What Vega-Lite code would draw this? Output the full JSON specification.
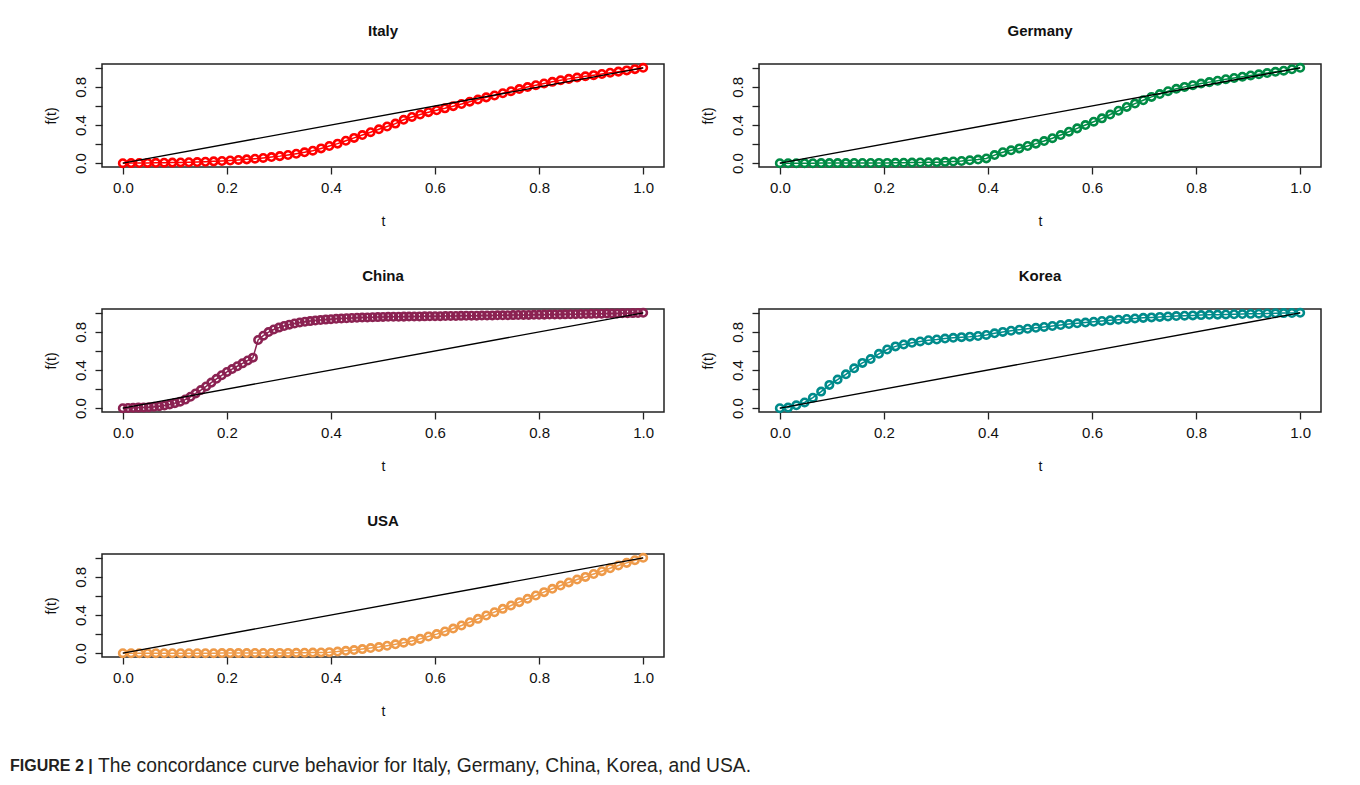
{
  "$schema": "https://vega.github.io/schema/vega-lite/v6.json",
  "padding": {"left": 10, "top": 23, "right": 5, "bottom": 5},
  "background": "white",
  "columns": 2,
  "bounds": "flush",
  "spacing": {"row": 142, "column": 95},
  "datasets": {
    "diag": [{"t": 0, "f": 0}, {"t": 1, "f": 1}],
    "curves": [
      {"country":"Italy","t":0,"f":0},{"country":"Italy","t":0.0159,"f":0.001},{"country":"Italy","t":0.0317,"f":0.002},{"country":"Italy","t":0.0476,"f":0.003},{"country":"Italy","t":0.0635,"f":0.004},{"country":"Italy","t":0.0794,"f":0.005},{"country":"Italy","t":0.0952,"f":0.006},{"country":"Italy","t":0.1111,"f":0.008},{"country":"Italy","t":0.127,"f":0.010},{"country":"Italy","t":0.1429,"f":0.012},{"country":"Italy","t":0.1587,"f":0.015},{"country":"Italy","t":0.1746,"f":0.019},{"country":"Italy","t":0.1905,"f":0.023},{"country":"Italy","t":0.2063,"f":0.028},{"country":"Italy","t":0.2222,"f":0.034},{"country":"Italy","t":0.2381,"f":0.040},{"country":"Italy","t":0.254,"f":0.047},{"country":"Italy","t":0.2698,"f":0.055},{"country":"Italy","t":0.2857,"f":0.064},{"country":"Italy","t":0.3016,"f":0.074},{"country":"Italy","t":0.3175,"f":0.086},{"country":"Italy","t":0.3333,"f":0.099},{"country":"Italy","t":0.3492,"f":0.114},{"country":"Italy","t":0.3651,"f":0.131},{"country":"Italy","t":0.381,"f":0.155},{"country":"Italy","t":0.3968,"f":0.18},{"country":"Italy","t":0.4127,"f":0.205},{"country":"Italy","t":0.4286,"f":0.235},{"country":"Italy","t":0.4444,"f":0.265},{"country":"Italy","t":0.4603,"f":0.295},{"country":"Italy","t":0.4762,"f":0.325},{"country":"Italy","t":0.4921,"f":0.355},{"country":"Italy","t":0.5079,"f":0.385},{"country":"Italy","t":0.5238,"f":0.415},{"country":"Italy","t":0.5397,"f":0.455},{"country":"Italy","t":0.5556,"f":0.485},{"country":"Italy","t":0.5714,"f":0.51},{"country":"Italy","t":0.5873,"f":0.535},{"country":"Italy","t":0.6032,"f":0.555},{"country":"Italy","t":0.619,"f":0.575},{"country":"Italy","t":0.6349,"f":0.598},{"country":"Italy","t":0.6508,"f":0.62},{"country":"Italy","t":0.6667,"f":0.645},{"country":"Italy","t":0.6825,"f":0.668},{"country":"Italy","t":0.6984,"f":0.69},{"country":"Italy","t":0.7143,"f":0.71},{"country":"Italy","t":0.7302,"f":0.733},{"country":"Italy","t":0.746,"f":0.755},{"country":"Italy","t":0.7619,"f":0.777},{"country":"Italy","t":0.7778,"f":0.798},{"country":"Italy","t":0.7937,"f":0.818},{"country":"Italy","t":0.8095,"f":0.836},{"country":"Italy","t":0.8254,"f":0.853},{"country":"Italy","t":0.8413,"f":0.869},{"country":"Italy","t":0.8571,"f":0.884},{"country":"Italy","t":0.873,"f":0.898},{"country":"Italy","t":0.8889,"f":0.911},{"country":"Italy","t":0.9048,"f":0.923},{"country":"Italy","t":0.9206,"f":0.935},{"country":"Italy","t":0.9365,"f":0.948},{"country":"Italy","t":0.9524,"f":0.96},{"country":"Italy","t":0.9683,"f":0.973},{"country":"Italy","t":0.9841,"f":0.986},{"country":"Italy","t":1,"f":1},
      {"country":"Germany","t":0,"f":0},{"country":"Germany","t":0.0159,"f":0},{"country":"Germany","t":0.0317,"f":0},{"country":"Germany","t":0.0476,"f":0},{"country":"Germany","t":0.0635,"f":0},{"country":"Germany","t":0.0794,"f":0.001},{"country":"Germany","t":0.0952,"f":0.001},{"country":"Germany","t":0.1111,"f":0.001},{"country":"Germany","t":0.127,"f":0.001},{"country":"Germany","t":0.1429,"f":0.002},{"country":"Germany","t":0.1587,"f":0.002},{"country":"Germany","t":0.1746,"f":0.002},{"country":"Germany","t":0.1905,"f":0.003},{"country":"Germany","t":0.2063,"f":0.003},{"country":"Germany","t":0.2222,"f":0.004},{"country":"Germany","t":0.2381,"f":0.005},{"country":"Germany","t":0.254,"f":0.006},{"country":"Germany","t":0.2698,"f":0.007},{"country":"Germany","t":0.2857,"f":0.009},{"country":"Germany","t":0.3016,"f":0.011},{"country":"Germany","t":0.3175,"f":0.014},{"country":"Germany","t":0.3333,"f":0.018},{"country":"Germany","t":0.3492,"f":0.023},{"country":"Germany","t":0.3651,"f":0.030},{"country":"Germany","t":0.381,"f":0.038},{"country":"Germany","t":0.3968,"f":0.050},{"country":"Germany","t":0.4127,"f":0.085},{"country":"Germany","t":0.4286,"f":0.115},{"country":"Germany","t":0.4444,"f":0.135},{"country":"Germany","t":0.4603,"f":0.155},{"country":"Germany","t":0.4762,"f":0.18},{"country":"Germany","t":0.4921,"f":0.205},{"country":"Germany","t":0.5079,"f":0.232},{"country":"Germany","t":0.5238,"f":0.262},{"country":"Germany","t":0.5397,"f":0.295},{"country":"Germany","t":0.5556,"f":0.33},{"country":"Germany","t":0.5714,"f":0.365},{"country":"Germany","t":0.5873,"f":0.40},{"country":"Germany","t":0.6032,"f":0.435},{"country":"Germany","t":0.619,"f":0.47},{"country":"Germany","t":0.6349,"f":0.51},{"country":"Germany","t":0.6508,"f":0.55},{"country":"Germany","t":0.6667,"f":0.59},{"country":"Germany","t":0.6825,"f":0.625},{"country":"Germany","t":0.6984,"f":0.66},{"country":"Germany","t":0.7143,"f":0.695},{"country":"Germany","t":0.7302,"f":0.725},{"country":"Germany","t":0.746,"f":0.755},{"country":"Germany","t":0.7619,"f":0.78},{"country":"Germany","t":0.7778,"f":0.80},{"country":"Germany","t":0.7937,"f":0.818},{"country":"Germany","t":0.8095,"f":0.835},{"country":"Germany","t":0.8254,"f":0.85},{"country":"Germany","t":0.8413,"f":0.865},{"country":"Germany","t":0.8571,"f":0.88},{"country":"Germany","t":0.873,"f":0.893},{"country":"Germany","t":0.8889,"f":0.907},{"country":"Germany","t":0.9048,"f":0.92},{"country":"Germany","t":0.9206,"f":0.932},{"country":"Germany","t":0.9365,"f":0.945},{"country":"Germany","t":0.9524,"f":0.958},{"country":"Germany","t":0.9683,"f":0.97},{"country":"Germany","t":0.9841,"f":0.985},{"country":"Germany","t":1,"f":1},
      {"country":"China","t":0,"f":0},{"country":"China","t":0.01,"f":0.002},{"country":"China","t":0.02,"f":0.004},{"country":"China","t":0.03,"f":0.006},{"country":"China","t":0.04,"f":0.008},{"country":"China","t":0.05,"f":0.011},{"country":"China","t":0.06,"f":0.015},{"country":"China","t":0.07,"f":0.021},{"country":"China","t":0.08,"f":0.029},{"country":"China","t":0.09,"f":0.040},{"country":"China","t":0.10,"f":0.053},{"country":"China","t":0.11,"f":0.068},{"country":"China","t":0.12,"f":0.090},{"country":"China","t":0.13,"f":0.120},{"country":"China","t":0.14,"f":0.155},{"country":"China","t":0.15,"f":0.190},{"country":"China","t":0.16,"f":0.228},{"country":"China","t":0.17,"f":0.268},{"country":"China","t":0.18,"f":0.308},{"country":"China","t":0.19,"f":0.345},{"country":"China","t":0.20,"f":0.380},{"country":"China","t":0.21,"f":0.410},{"country":"China","t":0.22,"f":0.440},{"country":"China","t":0.23,"f":0.470},{"country":"China","t":0.24,"f":0.500},{"country":"China","t":0.25,"f":0.530},{"country":"China","t":0.26,"f":0.715},{"country":"China","t":0.27,"f":0.760},{"country":"China","t":0.28,"f":0.798},{"country":"China","t":0.29,"f":0.825},{"country":"China","t":0.30,"f":0.845},{"country":"China","t":0.31,"f":0.862},{"country":"China","t":0.32,"f":0.876},{"country":"China","t":0.33,"f":0.888},{"country":"China","t":0.34,"f":0.898},{"country":"China","t":0.35,"f":0.906},{"country":"China","t":0.36,"f":0.913},{"country":"China","t":0.37,"f":0.919},{"country":"China","t":0.38,"f":0.924},{"country":"China","t":0.39,"f":0.929},{"country":"China","t":0.40,"f":0.933},{"country":"China","t":0.41,"f":0.937},{"country":"China","t":0.42,"f":0.940},{"country":"China","t":0.43,"f":0.943},{"country":"China","t":0.44,"f":0.946},{"country":"China","t":0.45,"f":0.948},{"country":"China","t":0.46,"f":0.950},{"country":"China","t":0.47,"f":0.952},{"country":"China","t":0.48,"f":0.954},{"country":"China","t":0.49,"f":0.955},{"country":"China","t":0.50,"f":0.957},{"country":"China","t":0.51,"f":0.958},{"country":"China","t":0.52,"f":0.959},{"country":"China","t":0.53,"f":0.959},{"country":"China","t":0.54,"f":0.960},{"country":"China","t":0.55,"f":0.961},{"country":"China","t":0.56,"f":0.962},{"country":"China","t":0.57,"f":0.962},{"country":"China","t":0.58,"f":0.963},{"country":"China","t":0.59,"f":0.964},{"country":"China","t":0.60,"f":0.965},{"country":"China","t":0.61,"f":0.965},{"country":"China","t":0.62,"f":0.966},{"country":"China","t":0.63,"f":0.967},{"country":"China","t":0.64,"f":0.967},{"country":"China","t":0.65,"f":0.968},{"country":"China","t":0.66,"f":0.969},{"country":"China","t":0.67,"f":0.970},{"country":"China","t":0.68,"f":0.970},{"country":"China","t":0.69,"f":0.971},{"country":"China","t":0.70,"f":0.972},{"country":"China","t":0.71,"f":0.973},{"country":"China","t":0.72,"f":0.974},{"country":"China","t":0.73,"f":0.974},{"country":"China","t":0.74,"f":0.975},{"country":"China","t":0.75,"f":0.976},{"country":"China","t":0.76,"f":0.977},{"country":"China","t":0.77,"f":0.978},{"country":"China","t":0.78,"f":0.978},{"country":"China","t":0.79,"f":0.979},{"country":"China","t":0.80,"f":0.980},{"country":"China","t":0.81,"f":0.981},{"country":"China","t":0.82,"f":0.982},{"country":"China","t":0.83,"f":0.983},{"country":"China","t":0.84,"f":0.983},{"country":"China","t":0.85,"f":0.984},{"country":"China","t":0.86,"f":0.985},{"country":"China","t":0.87,"f":0.986},{"country":"China","t":0.88,"f":0.987},{"country":"China","t":0.89,"f":0.988},{"country":"China","t":0.90,"f":0.989},{"country":"China","t":0.91,"f":0.990},{"country":"China","t":0.92,"f":0.991},{"country":"China","t":0.93,"f":0.992},{"country":"China","t":0.94,"f":0.993},{"country":"China","t":0.95,"f":0.994},{"country":"China","t":0.96,"f":0.995},{"country":"China","t":0.97,"f":0.996},{"country":"China","t":0.98,"f":0.997},{"country":"China","t":0.99,"f":0.998},{"country":"China","t":1,"f":1},
      {"country":"Korea","t":0,"f":0},{"country":"Korea","t":0.0159,"f":0.006},{"country":"Korea","t":0.0317,"f":0.03},{"country":"Korea","t":0.0476,"f":0.06},{"country":"Korea","t":0.0635,"f":0.11},{"country":"Korea","t":0.0794,"f":0.174},{"country":"Korea","t":0.0952,"f":0.244},{"country":"Korea","t":0.1111,"f":0.30},{"country":"Korea","t":0.127,"f":0.355},{"country":"Korea","t":0.1429,"f":0.418},{"country":"Korea","t":0.1587,"f":0.475},{"country":"Korea","t":0.1746,"f":0.515},{"country":"Korea","t":0.1905,"f":0.57},{"country":"Korea","t":0.2063,"f":0.615},{"country":"Korea","t":0.2222,"f":0.648},{"country":"Korea","t":0.2381,"f":0.668},{"country":"Korea","t":0.254,"f":0.686},{"country":"Korea","t":0.2698,"f":0.70},{"country":"Korea","t":0.2857,"f":0.712},{"country":"Korea","t":0.3016,"f":0.72},{"country":"Korea","t":0.3175,"f":0.73},{"country":"Korea","t":0.3333,"f":0.738},{"country":"Korea","t":0.3492,"f":0.745},{"country":"Korea","t":0.3651,"f":0.75},{"country":"Korea","t":0.381,"f":0.757},{"country":"Korea","t":0.3968,"f":0.768},{"country":"Korea","t":0.4127,"f":0.785},{"country":"Korea","t":0.4286,"f":0.80},{"country":"Korea","t":0.4444,"f":0.812},{"country":"Korea","t":0.4603,"f":0.823},{"country":"Korea","t":0.4762,"f":0.833},{"country":"Korea","t":0.4921,"f":0.843},{"country":"Korea","t":0.5079,"f":0.852},{"country":"Korea","t":0.5238,"f":0.862},{"country":"Korea","t":0.5397,"f":0.872},{"country":"Korea","t":0.5556,"f":0.882},{"country":"Korea","t":0.5714,"f":0.89},{"country":"Korea","t":0.5873,"f":0.898},{"country":"Korea","t":0.6032,"f":0.906},{"country":"Korea","t":0.619,"f":0.914},{"country":"Korea","t":0.6349,"f":0.921},{"country":"Korea","t":0.6508,"f":0.928},{"country":"Korea","t":0.6667,"f":0.935},{"country":"Korea","t":0.6825,"f":0.941},{"country":"Korea","t":0.6984,"f":0.947},{"country":"Korea","t":0.7143,"f":0.952},{"country":"Korea","t":0.7302,"f":0.957},{"country":"Korea","t":0.746,"f":0.962},{"country":"Korea","t":0.7619,"f":0.966},{"country":"Korea","t":0.7778,"f":0.970},{"country":"Korea","t":0.7937,"f":0.973},{"country":"Korea","t":0.8095,"f":0.976},{"country":"Korea","t":0.8254,"f":0.979},{"country":"Korea","t":0.8413,"f":0.981},{"country":"Korea","t":0.8571,"f":0.983},{"country":"Korea","t":0.873,"f":0.985},{"country":"Korea","t":0.8889,"f":0.987},{"country":"Korea","t":0.9048,"f":0.989},{"country":"Korea","t":0.9206,"f":0.991},{"country":"Korea","t":0.9365,"f":0.993},{"country":"Korea","t":0.9524,"f":0.995},{"country":"Korea","t":0.9683,"f":0.997},{"country":"Korea","t":0.9841,"f":0.998},{"country":"Korea","t":1,"f":1},
      {"country":"USA","t":0,"f":0},{"country":"USA","t":0.0159,"f":0},{"country":"USA","t":0.0317,"f":0},{"country":"USA","t":0.0476,"f":0},{"country":"USA","t":0.0635,"f":0},{"country":"USA","t":0.0794,"f":0},{"country":"USA","t":0.0952,"f":0},{"country":"USA","t":0.1111,"f":0},{"country":"USA","t":0.127,"f":0},{"country":"USA","t":0.1429,"f":0},{"country":"USA","t":0.1587,"f":0},{"country":"USA","t":0.1746,"f":0},{"country":"USA","t":0.1905,"f":0.001},{"country":"USA","t":0.2063,"f":0.001},{"country":"USA","t":0.2222,"f":0.001},{"country":"USA","t":0.2381,"f":0.001},{"country":"USA","t":0.254,"f":0.002},{"country":"USA","t":0.2698,"f":0.002},{"country":"USA","t":0.2857,"f":0.002},{"country":"USA","t":0.3016,"f":0.003},{"country":"USA","t":0.3175,"f":0.003},{"country":"USA","t":0.3333,"f":0.004},{"country":"USA","t":0.3492,"f":0.005},{"country":"USA","t":0.3651,"f":0.006},{"country":"USA","t":0.381,"f":0.008},{"country":"USA","t":0.3968,"f":0.011},{"country":"USA","t":0.4127,"f":0.017},{"country":"USA","t":0.4286,"f":0.025},{"country":"USA","t":0.4444,"f":0.033},{"country":"USA","t":0.4603,"f":0.043},{"country":"USA","t":0.4762,"f":0.054},{"country":"USA","t":0.4921,"f":0.064},{"country":"USA","t":0.5079,"f":0.078},{"country":"USA","t":0.5238,"f":0.093},{"country":"USA","t":0.5397,"f":0.11},{"country":"USA","t":0.5556,"f":0.128},{"country":"USA","t":0.5714,"f":0.15},{"country":"USA","t":0.5873,"f":0.175},{"country":"USA","t":0.6032,"f":0.20},{"country":"USA","t":0.619,"f":0.228},{"country":"USA","t":0.6349,"f":0.258},{"country":"USA","t":0.6508,"f":0.29},{"country":"USA","t":0.6667,"f":0.325},{"country":"USA","t":0.6825,"f":0.36},{"country":"USA","t":0.6984,"f":0.395},{"country":"USA","t":0.7143,"f":0.43},{"country":"USA","t":0.7302,"f":0.465},{"country":"USA","t":0.746,"f":0.50},{"country":"USA","t":0.7619,"f":0.535},{"country":"USA","t":0.7778,"f":0.57},{"country":"USA","t":0.7937,"f":0.605},{"country":"USA","t":0.8095,"f":0.64},{"country":"USA","t":0.8254,"f":0.675},{"country":"USA","t":0.8413,"f":0.71},{"country":"USA","t":0.8571,"f":0.742},{"country":"USA","t":0.873,"f":0.772},{"country":"USA","t":0.8889,"f":0.80},{"country":"USA","t":0.9048,"f":0.83},{"country":"USA","t":0.9206,"f":0.86},{"country":"USA","t":0.9365,"f":0.89},{"country":"USA","t":0.9524,"f":0.92},{"country":"USA","t":0.9683,"f":0.947},{"country":"USA","t":0.9841,"f":0.975},{"country":"USA","t":1,"f":1}
    ]
  },
  "concat": [
    {
      "title": "Italy", "width": 562, "height": 103,
      "data": {"name": "curves"},
      "encoding": {
        "x": {"field": "t", "type": "quantitative", "scale": {"domain": [-0.04, 1.04], "nice": false, "zero": false}, "axis": {"values": [0, 0.2, 0.4, 0.6, 0.8, 1], "format": ".1f", "title": "t"}},
        "y": {"field": "f", "type": "quantitative", "scale": {"domain": [-0.04, 1.04], "nice": false, "zero": false}, "axis": {"values": [0, 0.2, 0.4, 0.6, 0.8, 1], "labelExpr": "(datum.value < 0.01 || abs(datum.value - 0.4) < 0.01 || abs(datum.value - 0.8) < 0.01) ? format(datum.value, '.1f') : ''", "title": "f(t)"}}
      },
      "layer": [
        {"transform": [{"filter": "datum.country === 'Italy'"}], "mark": {"type": "line", "strokeWidth": 1.5}, "encoding": {"color": {"field": "country", "type": "nominal", "scale": {"domain": ["Italy", "Germany", "China", "Korea", "USA"], "range": ["#FF0000", "#008B45", "#8B2252", "#008B8B", "#EE9A49"]}, "legend": null}}},
        {"transform": [{"filter": "datum.country === 'Italy'"}], "mark": {"type": "point", "filled": false, "size": 55, "strokeWidth": 2.6, "opacity": 1}, "encoding": {"color": {"field": "country", "type": "nominal", "scale": {"domain": ["Italy", "Germany", "China", "Korea", "USA"], "range": ["#FF0000", "#008B45", "#8B2252", "#008B8B", "#EE9A49"]}, "legend": null}}},
        {"data": {"name": "diag"}, "mark": {"type": "line", "color": "black", "strokeWidth": 1.3}, "encoding": {}}
      ]
    },
    {
      "title": "Germany", "width": 562, "height": 103,
      "data": {"name": "curves"},
      "encoding": {
        "x": {"field": "t", "type": "quantitative", "scale": {"domain": [-0.04, 1.04], "nice": false, "zero": false}, "axis": {"values": [0, 0.2, 0.4, 0.6, 0.8, 1], "format": ".1f", "title": "t"}},
        "y": {"field": "f", "type": "quantitative", "scale": {"domain": [-0.04, 1.04], "nice": false, "zero": false}, "axis": {"values": [0, 0.2, 0.4, 0.6, 0.8, 1], "labelExpr": "(datum.value < 0.01 || abs(datum.value - 0.4) < 0.01 || abs(datum.value - 0.8) < 0.01) ? format(datum.value, '.1f') : ''", "title": "f(t)"}}
      },
      "layer": [
        {"transform": [{"filter": "datum.country === 'Germany'"}], "mark": {"type": "line", "strokeWidth": 1.5}, "encoding": {"color": {"field": "country", "type": "nominal", "scale": {"domain": ["Italy", "Germany", "China", "Korea", "USA"], "range": ["#FF0000", "#008B45", "#8B2252", "#008B8B", "#EE9A49"]}, "legend": null}}},
        {"transform": [{"filter": "datum.country === 'Germany'"}], "mark": {"type": "point", "filled": false, "size": 55, "strokeWidth": 2.6, "opacity": 1}, "encoding": {"color": {"field": "country", "type": "nominal", "scale": {"domain": ["Italy", "Germany", "China", "Korea", "USA"], "range": ["#FF0000", "#008B45", "#8B2252", "#008B8B", "#EE9A49"]}, "legend": null}}},
        {"data": {"name": "diag"}, "mark": {"type": "line", "color": "black", "strokeWidth": 1.3}, "encoding": {}}
      ]
    },
    {
      "title": "China", "width": 562, "height": 103,
      "data": {"name": "curves"},
      "encoding": {
        "x": {"field": "t", "type": "quantitative", "scale": {"domain": [-0.04, 1.04], "nice": false, "zero": false}, "axis": {"values": [0, 0.2, 0.4, 0.6, 0.8, 1], "format": ".1f", "title": "t"}},
        "y": {"field": "f", "type": "quantitative", "scale": {"domain": [-0.04, 1.04], "nice": false, "zero": false}, "axis": {"values": [0, 0.2, 0.4, 0.6, 0.8, 1], "labelExpr": "(datum.value < 0.01 || abs(datum.value - 0.4) < 0.01 || abs(datum.value - 0.8) < 0.01) ? format(datum.value, '.1f') : ''", "title": "f(t)"}}
      },
      "layer": [
        {"transform": [{"filter": "datum.country === 'China'"}], "mark": {"type": "line", "strokeWidth": 1.5}, "encoding": {"color": {"field": "country", "type": "nominal", "scale": {"domain": ["Italy", "Germany", "China", "Korea", "USA"], "range": ["#FF0000", "#008B45", "#8B2252", "#008B8B", "#EE9A49"]}, "legend": null}}},
        {"transform": [{"filter": "datum.country === 'China'"}], "mark": {"type": "point", "filled": false, "size": 55, "strokeWidth": 2.6, "opacity": 1}, "encoding": {"color": {"field": "country", "type": "nominal", "scale": {"domain": ["Italy", "Germany", "China", "Korea", "USA"], "range": ["#FF0000", "#008B45", "#8B2252", "#008B8B", "#EE9A49"]}, "legend": null}}},
        {"data": {"name": "diag"}, "mark": {"type": "line", "color": "black", "strokeWidth": 1.3}, "encoding": {}}
      ]
    },
    {
      "title": "Korea", "width": 562, "height": 103,
      "data": {"name": "curves"},
      "encoding": {
        "x": {"field": "t", "type": "quantitative", "scale": {"domain": [-0.04, 1.04], "nice": false, "zero": false}, "axis": {"values": [0, 0.2, 0.4, 0.6, 0.8, 1], "format": ".1f", "title": "t"}},
        "y": {"field": "f", "type": "quantitative", "scale": {"domain": [-0.04, 1.04], "nice": false, "zero": false}, "axis": {"values": [0, 0.2, 0.4, 0.6, 0.8, 1], "labelExpr": "(datum.value < 0.01 || abs(datum.value - 0.4) < 0.01 || abs(datum.value - 0.8) < 0.01) ? format(datum.value, '.1f') : ''", "title": "f(t)"}}
      },
      "layer": [
        {"transform": [{"filter": "datum.country === 'Korea'"}], "mark": {"type": "line", "strokeWidth": 1.5}, "encoding": {"color": {"field": "country", "type": "nominal", "scale": {"domain": ["Italy", "Germany", "China", "Korea", "USA"], "range": ["#FF0000", "#008B45", "#8B2252", "#008B8B", "#EE9A49"]}, "legend": null}}},
        {"transform": [{"filter": "datum.country === 'Korea'"}], "mark": {"type": "point", "filled": false, "size": 55, "strokeWidth": 2.6, "opacity": 1}, "encoding": {"color": {"field": "country", "type": "nominal", "scale": {"domain": ["Italy", "Germany", "China", "Korea", "USA"], "range": ["#FF0000", "#008B45", "#8B2252", "#008B8B", "#EE9A49"]}, "legend": null}}},
        {"data": {"name": "diag"}, "mark": {"type": "line", "color": "black", "strokeWidth": 1.3}, "encoding": {}}
      ]
    },
    {
      "title": "USA", "width": 562, "height": 103,
      "data": {"name": "curves"},
      "encoding": {
        "x": {"field": "t", "type": "quantitative", "scale": {"domain": [-0.04, 1.04], "nice": false, "zero": false}, "axis": {"values": [0, 0.2, 0.4, 0.6, 0.8, 1], "format": ".1f", "title": "t"}},
        "y": {"field": "f", "type": "quantitative", "scale": {"domain": [-0.04, 1.04], "nice": false, "zero": false}, "axis": {"values": [0, 0.2, 0.4, 0.6, 0.8, 1], "labelExpr": "(datum.value < 0.01 || abs(datum.value - 0.4) < 0.01 || abs(datum.value - 0.8) < 0.01) ? format(datum.value, '.1f') : ''", "title": "f(t)"}}
      },
      "layer": [
        {"transform": [{"filter": "datum.country === 'USA'"}], "mark": {"type": "line", "strokeWidth": 1.5}, "encoding": {"color": {"field": "country", "type": "nominal", "scale": {"domain": ["Italy", "Germany", "China", "Korea", "USA"], "range": ["#FF0000", "#008B45", "#8B2252", "#008B8B", "#EE9A49"]}, "legend": null}}},
        {"transform": [{"filter": "datum.country === 'USA'"}], "mark": {"type": "point", "filled": false, "size": 55, "strokeWidth": 2.6, "opacity": 1}, "encoding": {"color": {"field": "country", "type": "nominal", "scale": {"domain": ["Italy", "Germany", "China", "Korea", "USA"], "range": ["#FF0000", "#008B45", "#8B2252", "#008B8B", "#EE9A49"]}, "legend": null}}},
        {"data": {"name": "diag"}, "mark": {"type": "line", "color": "black", "strokeWidth": 1.3}, "encoding": {}}
      ]
    },
    {
      "width": 562, "height": 103,
      "view": {"stroke": null},
      "data": {"values": [{"part": "label", "text": "FIGURE 2 |"}, {"part": "body", "text": "The concordance curve behavior for Italy, Germany, China, Korea, and USA."}]},
      "layer": [
        {"transform": [{"filter": "datum.part === 'label'"}], "mark": {"type": "text", "align": "left", "baseline": "middle", "x": -749, "y": 212, "font": "Liberation Sans", "fontWeight": "bold", "fontSize": 16, "color": "#231f20"}, "encoding": {"text": {"field": "text"}}},
        {"transform": [{"filter": "datum.part === 'body'"}], "mark": {"type": "text", "align": "left", "baseline": "middle", "x": -661, "y": 212, "font": "Liberation Sans", "fontSize": 19.3, "color": "#231f20"}, "encoding": {"text": {"field": "text"}}}
      ]
    }
  ],
  "config": {
    "view": {"stroke": "#222", "strokeWidth": 1.5},
    "font": "Liberation Sans",
    "axis": {"domain": false, "grid": false, "ticks": true, "tickColor": "#222", "tickWidth": 1.3, "tickSize": 7, "labelFont": "Liberation Sans", "labelFontSize": 15, "labelColor": "#111", "labelFlush": false, "labelOverlap": false, "titleFont": "Liberation Sans", "titleFontSize": 14, "titleFontWeight": "normal", "titleColor": "#111"},
    "axisX": {"labelPadding": 6, "titlePadding": 19},
    "axisY": {"labelAngle": -90, "labelAlign": "center", "labelBaseline": "bottom", "labelPadding": 7, "titlePadding": 15},
    "title": {"fontSize": 15, "fontWeight": "bold", "offset": 20, "baseline": "alphabetic", "anchor": "middle", "color": "#111", "font": "Liberation Sans"}
  }
}
